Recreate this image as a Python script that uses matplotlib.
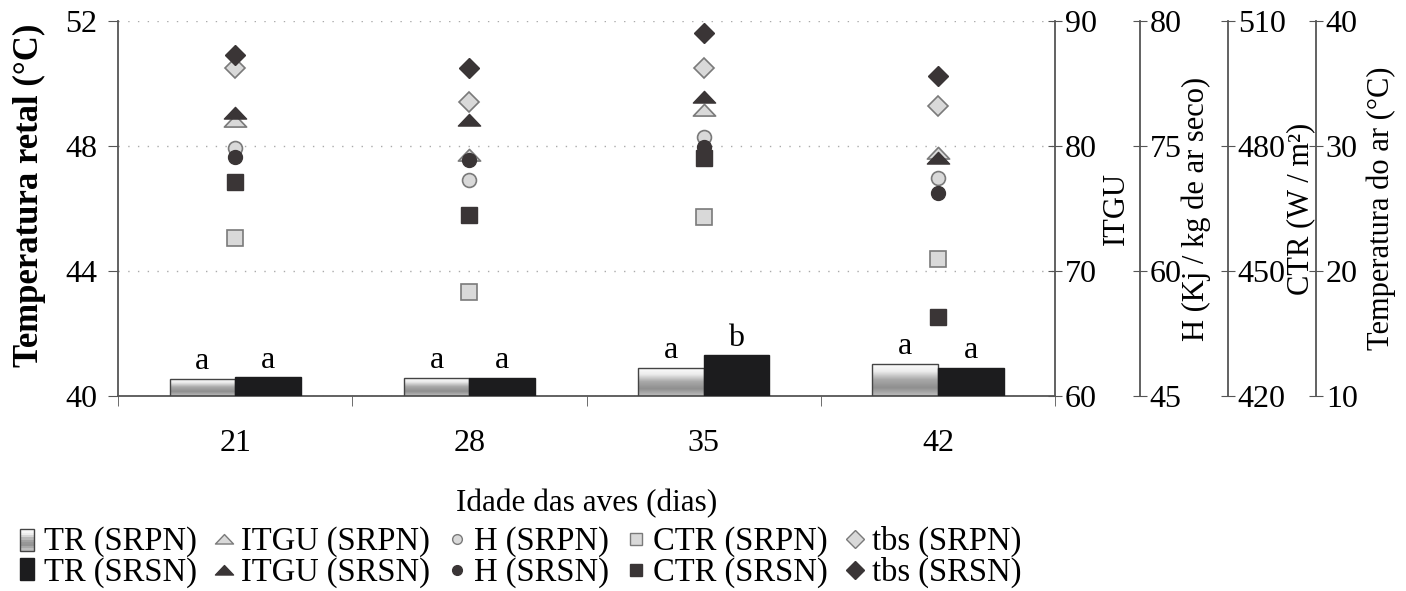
import matplotlib
matplotlib.use("Agg")
import matplotlib.pyplot as plt
import numpy as np
from matplotlib.colors import LinearSegmentedColormap
from matplotlib.legend_handler import HandlerBase
from matplotlib.patches import Rectangle
from matplotlib.path import Path
from matplotlib.lines import Line2D

plt.rcParams['font.family'] = ['Liberation Serif', 'DejaVu Serif']
plt.rcParams['font.size'] = 23

# idade das aves (dias)
idade = ['21', '28', '35', '42']

# temperatura retal (°C)
tr_srpn = [40.55, 40.58, 40.90, 41.03]
tr_srsn = [40.60, 40.58, 41.30, 40.90]
letras_srpn = ['a', 'a', 'a', 'a']
letras_srsn = ['a', 'a', 'b', 'a']

# ITGU
itgu_srpn = [82.0, 79.3, 82.9, 79.4]
itgu_srsn = [82.6, 82.1, 83.9, 79.0]

# entalpia H (Kj / kg de ar seco)
h_srpn = [68.1, 65.2, 69.2, 65.3]
h_srsn = [67.3, 67.0, 68.2, 63.9]
h_ticks = ['45', '60', '75', '80']

# CTR (W / m2)
ctr_srpn = [457.9, 445.0, 462.9, 452.9]
ctr_srsn = [471.4, 463.5, 477.1, 439.0]

# temperatura do ar (°C)
tbs_srpn = [36.2, 33.5, 36.2, 33.2]
tbs_srsn = [37.3, 36.2, 39.0, 35.6]

claro = '#d9d9d9'
borda_claro = '#7a7a7a'
escuro = '#3a3536'
preto = '#1c1c1e'
grad = LinearSegmentedColormap.from_list('grad', ['#ffffff', '#ececec', '#a9a9a9', '#8f8f8f', '#bdbdbd'])

# triangulo achatado
tri = Path([(-1, -0.5), (1, -0.5), (0, 0.55), (-1, -0.5)],
           [Path.MOVETO, Path.LINETO, Path.LINETO, Path.CLOSEPOLY])


class GradHandler(HandlerBase):
    def create_artists(self, legend, orig, xd, yd, w, h, fontsize, trans):
        arts = []
        n = 10
        for i in range(n):
            arts.append(Rectangle((xd, yd + h * (n - 1 - i) / n), w, h / n,
                                  facecolor=grad(i / (n - 1)), edgecolor='none', transform=trans))
        arts.append(Rectangle((xd, yd), w, h, facecolor='none', edgecolor='#444444', lw=1, transform=trans))
        return arts


fig = plt.figure(figsize=(14.06, 5.91), dpi=100)
ax = fig.add_axes([0.0839, 0.330, 0.6665, 0.6345])

x = np.arange(len(idade))
w = 0.28
bars_p = ax.bar(x - w / 2, np.array(tr_srpn) - 40, w, bottom=40, facecolor='none',
                edgecolor='#444444', lw=1, zorder=3)
bars_s = ax.bar(x + w / 2, np.array(tr_srsn) - 40, w, bottom=40, color=preto,
                edgecolor=preto, lw=1, zorder=3)

g = np.linspace(0, 1, 100).reshape(-1, 1)
for b in bars_p:
    x0, y0 = b.get_x(), b.get_y()
    im = ax.imshow(g, extent=[x0, x0 + b.get_width(), y0, y0 + b.get_height()],
                   aspect='auto', cmap=grad, origin='upper', zorder=2)
    im.set_clip_path(b)

for i in range(len(idade)):
    ax.text(x[i] - w / 2, tr_srpn[i] + 0.08, letras_srpn[i], ha='center', va='bottom', fontsize=23)
    ax.text(x[i] + w / 2, tr_srsn[i] + 0.08, letras_srsn[i], ha='center', va='bottom', fontsize=23)

ax.set_xlim(-0.5, 3.5)
ax.set_ylim(40, 52)
ax.set_yticks([40, 44, 48, 52])
ax.set_xticks(x)
ax.set_xticklabels(idade)
ax.set_xticks([-0.5, 0.5, 1.5, 2.5, 3.5], minor=True)
ax.tick_params(axis='x', which='major', length=0, pad=24)
ax.tick_params(axis='x', which='minor', length=7, direction='out', color='#555555')
ax.tick_params(axis='y', length=7, direction='out', color='#555555', pad=8)
ax.grid(axis='y', linestyle=(0, (1, 6)), color='#aaaaaa', lw=1)
ax.set_axisbelow(True)
for s in ['top', 'right']:
    ax.spines[s].set_visible(False)
for s in ['left', 'bottom']:
    ax.spines[s].set_color('#555555')
    ax.spines[s].set_linewidth(1.3)
ax.set_ylabel('Temperatura retal (°C)', fontweight='bold', fontsize=25)
ax.yaxis.set_label_coords(-0.077, 0.535)
ax.set_xlabel('Idade das aves (dias)', fontsize=22.5, labelpad=22)


def eixo(pos, lim, ticks, label, lpad, ticklabels=None):
    t = ax.twinx()
    t.set_ylim(*lim)
    t.set_yticks(ticks)
    if ticklabels is not None:
        t.set_yticklabels(ticklabels)
    for s in ['top', 'bottom', 'left']:
        t.spines[s].set_visible(False)
    t.spines['right'].set_position(('axes', pos))
    t.spines['right'].set_color('#555555')
    t.spines['right'].set_linewidth(1.3)
    t.tick_params(axis='y', direction='inout', length=10, color='#555555', pad=2)
    t.set_ylabel(label, labelpad=lpad, fontsize=22)
    return t


ax_itgu = eixo(1.0, (60, 90), [60, 70, 80, 90], 'ITGU', 4)
ax_h = eixo(1.0907, (45, 80), np.linspace(45, 80, 4), 'H (Kj / kg de ar seco)', 0, h_ticks)
ax_ctr = eixo(1.1846, (420, 510), [420, 450, 480, 510], 'CTR (W / m²)', 0)
ax_tbs = eixo(1.2785, (10, 40), [10, 20, 30, 40], 'Temperatura do ar (°C)', 6)

ms_sq = 11
ms_c = 10
ms_t = 16
ms_d = 10.5
ax_ctr.plot(x, ctr_srpn, 's', ms=ms_sq, mfc=claro, mec=borda_claro, mew=1.2, zorder=5)
ax_ctr.plot(x, ctr_srsn, 's', ms=ms_sq, mfc=escuro, mec=escuro, zorder=5)
ax_h.plot(x, h_srpn, 'o', ms=ms_c, mfc=claro, mec=borda_claro, mew=1.2, zorder=5)
ax_h.plot(x, h_srsn, 'o', ms=ms_c, mfc=escuro, mec=escuro, zorder=5)
ax_itgu.plot(x, itgu_srpn, marker=tri, ls='none', ms=ms_t, mfc=claro, mec=borda_claro, mew=1.2, zorder=5)
ax_itgu.plot(x, itgu_srsn, marker=tri, ls='none', ms=ms_t, mfc=escuro, mec=escuro, zorder=5)
ax_tbs.plot(x, tbs_srpn, 'D', ms=ms_d, mfc=claro, mec=borda_claro, mew=1.2, zorder=5)
ax_tbs.plot(x, tbs_srsn, 'D', ms=ms_d, mfc=escuro, mec=escuro, zorder=5)

handles = [
    Rectangle((0, 0), 1, 1), Rectangle((0, 0), 1, 1, facecolor=preto, edgecolor=preto),
    Line2D([], [], marker=tri, ls='none', ms=13, mfc=claro, mec=borda_claro),
    Line2D([], [], marker=tri, ls='none', ms=13, mfc=escuro, mec=escuro),
    Line2D([], [], marker='o', ls='none', ms=7, mfc=claro, mec=borda_claro),
    Line2D([], [], marker='o', ls='none', ms=7, mfc=escuro, mec=escuro),
    Line2D([], [], marker='s', ls='none', ms=9, mfc=claro, mec=borda_claro),
    Line2D([], [], marker='s', ls='none', ms=9, mfc=escuro, mec=escuro),
    Line2D([], [], marker='D', ls='none', ms=9, mfc=claro, mec=borda_claro),
    Line2D([], [], marker='D', ls='none', ms=9, mfc=escuro, mec=escuro),
]
labels = ['TR (SRPN)', 'TR (SRSN)', 'ITGU (SRPN)', 'ITGU (SRSN)', 'H (SRPN)', 'H (SRSN)',
          'CTR (SRPN)', 'CTR (SRSN)', 'tbs (SRPN)', 'tbs (SRSN)']
fig.legend(handles, labels, loc='upper left', bbox_to_anchor=(0.014, 0.11), ncol=5,
           frameon=False, fontsize=23.5, handlelength=0.45, handleheight=0.65, handletextpad=0.3,
           columnspacing=0.6, labelspacing=0.0, borderpad=0, borderaxespad=0,
           handler_map={handles[0]: GradHandler()})

fig.savefig('out.png', dpi=100)
